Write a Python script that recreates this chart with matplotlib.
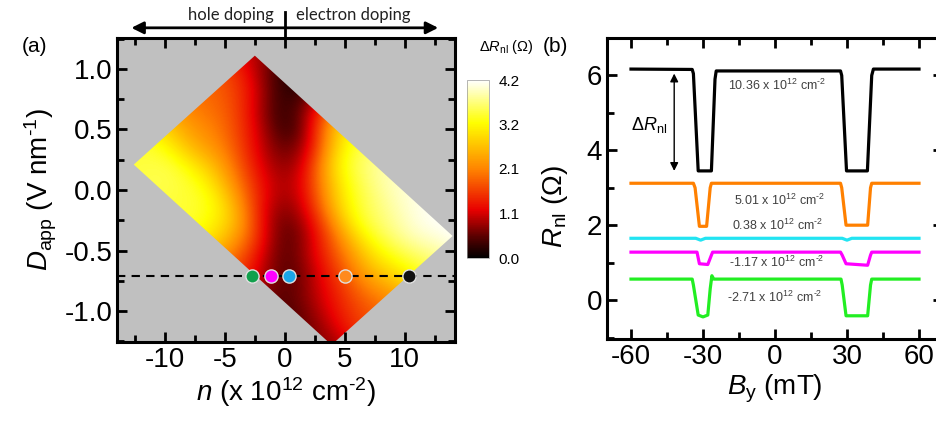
import numpy as np
import matplotlib
matplotlib.use("Agg")
import matplotlib.pyplot as plt
from matplotlib.colors import LinearSegmentedColormap
from matplotlib.transforms import Affine2D
from matplotlib.patches import Polygon

plt.rcParams['font.family'] = ['Liberation Sans', 'DejaVu Sans']
plt.rcParams['mathtext.fontset'] = 'custom'
plt.rcParams['mathtext.rm'] = 'Liberation Sans'
plt.rcParams['mathtext.it'] = 'Liberation Sans:italic'
plt.rcParams['axes.unicode_minus'] = False

# ---- panel (a): corners of the measured region in (n, D)
corner_left = (-12.6, 0.21)
corner_top = (-2.5, 1.11)
corner_bottom = (3.9, -1.28)

# dR_nl read on the region; rows go from the lower-left edge to the upper-right edge,
# columns from the upper-left edge to the lower-right edge
dR_grid = [
    [3.4, 3.5, 3.4, 3.4, 3.0, 2.0, 1.3, 0.6, 0.4, 0.6, 0.7],
    [3.4, 3.5, 3.4, 3.3, 2.8, 1.8, 0.6, 0.3, 0.9, 1.2, 1.5],
    [2.6, 2.4, 2.6, 2.2, 1.6, 0.6, 0.3, 1.1, 1.4, 1.7, 1.8],
    [2.0, 2.1, 1.8, 1.3, 0.9, 0.7, 1.2, 1.8, 2.3, 2.6, 2.3],
    [1.9, 1.7, 1.2, 0.6, 0.6, 1.6, 2.7, 3.3, 3.4, 3.3, 3.2],
    [1.6, 1.2, 0.3, 0.1, 1.2, 3.1, 3.4, 3.6, 3.8, 4.0, 3.7],
    [0.9, 0.3, 0.1, 1.2, 2.8, 3.4, 3.8, 4.0, 4.1, 4.2, 4.2],
]
cbar_ticks = [0.0, 1.05, 2.1, 3.15, 4.2]
cbar_labels = ['0.0', '1.1', '2.1', '3.2', '4.2']

D_cut = -0.71
dot_n = [-2.71, -1.17, 0.38, 5.01, 10.36]
dot_colors = ['#11a04c', '#ff00ff', '#1aa6e8', '#ff8a1e', '#111111']

# ---- panel (b): nonlocal resistance traces
B_black = [-60, -34.5, -34, -32, -26.5, -25, -24.5, 27.3, 27.8, 29.8, 38.5, 40.3, 41, 60]
R_black = [6.17, 6.16, 6.05, 3.45, 3.45, 5.9, 6.12, 6.12, 6.0, 3.45, 3.45, 6.0, 6.17, 6.17]

B_orange = [-60, -34, -33.3, -31.5, -28.5, -27, -26.5, 27.3, 27.8, 29.6, 38.6, 39.8, 40.3, 60]
R_orange = [3.12, 3.12, 3.0, 1.97, 1.97, 3.0, 3.12, 3.12, 3.0, 2.0, 2.0, 3.0, 3.12, 3.12]

B_cyan = [-60, -33, -31, -29, 28, 30, 32, 60]
R_cyan = [1.65, 1.65, 1.6, 1.65, 1.65, 1.6, 1.65, 1.65]

B_magenta = [-60, -32.5, -31.5, -28, -26.5, -26, 27.3, 28, 29.6, 38.6, 39.8, 40.3, 60]
R_magenta = [1.28, 1.28, 0.97, 0.95, 1.2, 1.28, 1.28, 1.2, 0.97, 0.93, 1.2, 1.28, 1.28]

B_green = [-60, -34.5, -34, -32, -30, -28, -27, -26.3, -25.5, 27.5, 28, 29.6, 38.6, 39.8, 40.3, 60]
R_green = [0.56, 0.56, 0.4, -0.4, -0.45, -0.4, 0.3, 0.65, 0.56, 0.56, 0.4, -0.42, -0.42, 0.4, 0.56, 0.56]

trace_labels = ['10.36 x 10$^{12}$ cm$^{\u20102}$', '5.01 x 10$^{12}$ cm$^{\u20102}$', '0.38 x 10$^{12}$ cm$^{\u20102}$',
                '-1.17 x 10$^{12}$ cm$^{\u20102}$', '-2.71 x 10$^{12}$ cm$^{\u20102}$']
label_B = [1.0, 2.0, 1.0, 0.5, 0.0]
label_R = [5.73, 2.67, 2.0, 1.0, 0.08]

W, H = 937, 421
fig = plt.figure(figsize=(W / 100, H / 100), dpi=100)

def style_axes(ax):
    for s in ax.spines.values():
        s.set_linewidth(2.2)
    ax.tick_params(which='both', direction='in', top=True, right=True, width=2, labelsize=20)
    ax.tick_params(which='major', length=7)
    ax.tick_params(which='minor', length=5)

# ---------------- (a)
ax1 = fig.add_axes([117 / W, 1 - 342 / H, 338 / W, 304 / H])
ax1.set_facecolor('#c0c0c0')
cmap = LinearSegmentedColormap.from_list('dr', [(0, '#000000'), (0.12, '#5a0000'), (0.27, '#e80000'),
                                               (0.5, '#ff8400'), (0.76, '#ffff00'), (1, '#ffffff')])
grid = np.array(dR_grid)
nu, nv = grid.shape
du, dv = 1 / (nu - 1), 1 / (nv - 1)
a_vec = (corner_bottom[0] - corner_left[0], corner_bottom[1] - corner_left[1])
b_vec = (corner_top[0] - corner_left[0], corner_top[1] - corner_left[1])
to_nd = Affine2D(np.array([[a_vec[0], b_vec[0], corner_left[0]],
                           [a_vec[1], b_vec[1], corner_left[1]],
                           [0, 0, 1]]))
im = ax1.imshow(grid, origin='lower', cmap=cmap, vmin=0, vmax=4.2, interpolation='bicubic',
                extent=(-dv / 2, 1 + dv / 2, -du / 2, 1 + du / 2), aspect='auto')
im.set_transform(to_nd + ax1.transData)
corner_right = (corner_top[0] + a_vec[0], corner_top[1] + a_vec[1])
region = Polygon([corner_left, corner_top, corner_right, corner_bottom], closed=True,
                 transform=ax1.transData, fc='none', ec='none')
ax1.add_patch(region)
im.set_clip_path(region)

ax1.axhline(D_cut, color='black', lw=1.5, ls=(0, (4, 3)))
for nn, cc in zip(dot_n, dot_colors):
    ax1.plot(nn, D_cut, 'o', ms=9.5, color=cc, mec='#e0e0e0', mew=1)

ax1.set_xlim(-14, 14.2)
ax1.set_ylim(-1.256, 1.256)
ax1.set_xticks([-10, -5, 0, 5, 10])
ax1.set_xticks(np.arange(-12.5, 14, 2.5), minor=True)
ax1.set_yticks([-1.0, -0.5, 0.0, 0.5, 1.0])
ax1.set_yticks(np.arange(-1.25, 1.3, 0.25), minor=True)
ax1.set_yticklabels(['-1.0', '-0.5', '0.0', '0.5', '1.0'])
style_axes(ax1)
ax1.set_xlabel('$n$ (x 10$^{12}$ cm$^{\u20102}$)', fontsize=20, labelpad=2)
ax1.set_ylabel('$D_{\\rm app}$ (V nm$^{\u20101}$)', fontsize=20, labelpad=4)

# doping arrow above panel (a)
ax1.annotate('', xy=(-12.8, 1.34), xytext=(12.8, 1.34), annotation_clip=False,
             arrowprops=dict(arrowstyle='<|-|>', color='black', lw=2, mutation_scale=18, shrinkA=0, shrinkB=0))
ax1.plot([0, 0], [1.256, 1.47], color='black', lw=2, clip_on=False)
ax1.text(-0.9, 1.45, 'hole doping', fontsize=12, family='Lato', ha='right', va='center', color='#222222')
ax1.text(0.9, 1.45, 'electron doping', fontsize=12, family='Lato', ha='left', va='center', color='#222222')
fig.text(35 / W, 1 - 47 / H, '(a)', fontsize=15, ha='center', va='center')

# colorbar
cax = fig.add_axes([467 / W, 1 - 258 / H, 22 / W, 178 / H])
cb = fig.colorbar(im, cax=cax, ticks=cbar_ticks)
cb.ax.set_yticklabels(cbar_labels)
cb.ax.tick_params(length=0, labelsize=11, pad=7)
cb.outline.set_linewidth(0.5)
cb.outline.set_edgecolor('#999999')
fig.text(506 / W, 1 - 47 / H, '$\\Delta R_{\\rm nl}$ ($\\Omega$)', fontsize=10.5, ha='center', va='center')

# ---------------- (b)
ax2 = fig.add_axes([607 / W, 1 - 339 / H, 336 / W, 301 / H])
traces = [(B_black, R_black, 'black'), (B_orange, R_orange, '#ff8000'), (B_cyan, R_cyan, '#22e4f2'),
          (B_magenta, R_magenta, '#ff00ff'), (B_green, R_green, '#22ee22')]
for bb, rr, cc in traces:
    ax2.plot(bb, rr, color=cc, lw=2.3)
for txt, xb, yr in zip(trace_labels, label_B, label_R):
    ax2.text(xb, yr, txt, fontsize=9, color='#404040', ha='center', va='center')

ax2.annotate('', xy=(-42, 6.05), xytext=(-42, 3.45),
             arrowprops=dict(arrowstyle='<|-|>', color='black', lw=1, mutation_scale=12, shrinkA=0, shrinkB=0))
ax2.text(-52.5, 4.67, '$\\Delta R_{\\rm nl}$', fontsize=13, ha='center', va='center')

ax2.set_xlim(-70, 70)
ax2.set_ylim(-1.04, 7)
ax2.set_xticks([-60, -30, 0, 30, 60])
ax2.set_xticks(np.arange(-60, 61, 15), minor=True)
ax2.set_yticks([0, 2, 4, 6])
ax2.set_yticks(np.arange(-1, 7.1, 1), minor=True)
style_axes(ax2)
ax2.set_xlabel('$B_{\\rm y}$ (mT)', fontsize=20, labelpad=2)
ax2.set_ylabel('$R_{\\rm nl}$ ($\\Omega$)', fontsize=20)
ax2.yaxis.set_label_coords(-0.11, 0.44)
fig.text(555 / W, 1 - 47 / H, '(b)', fontsize=15, ha='center', va='center')

fig.savefig('out.png', dpi=100)
